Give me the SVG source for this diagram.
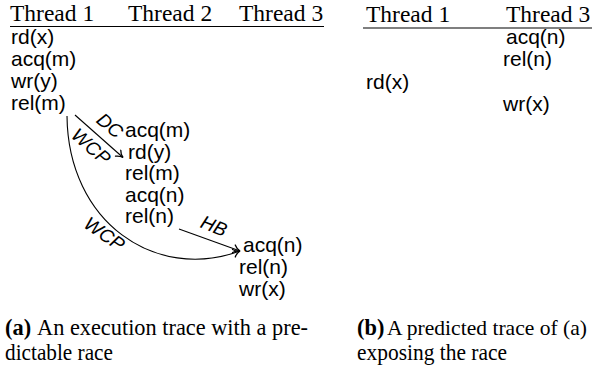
<svg xmlns="http://www.w3.org/2000/svg" width="592" height="372" viewBox="0 0 592 372">
<style>
  .hdr { font-family: "Liberation Serif", "DejaVu Serif", serif; font-size: 23.5px; fill: #000; }
  .op { font-family: "Liberation Sans", "DejaVu Sans", sans-serif; font-size: 21px; fill: #000; }
  .lbl { font-family: "Liberation Sans", "DejaVu Sans", sans-serif; font-style: italic; font-size: 19px; fill: #000; text-anchor: middle; dominant-baseline: central; }
  .cap { font-family: "Liberation Serif", "DejaVu Serif", serif; font-size: 22.4px; fill: #000; }
  .capb { font-weight: bold; }
  .capn { font-size: 21.4px; }
  .rule { stroke: #000; stroke-width: 1.1; fill: none; }
  .edge { stroke: #000; stroke-width: 1.1; fill: none; marker-end: url(#arr); }
</style>
<defs>
  <marker id="arr" viewBox="-8 -5 10 10" refX="0" refY="0" markerWidth="10" markerHeight="10" markerUnits="userSpaceOnUse" orient="auto">
    <path d="M -6.5,-4 C -4.5,-1.6 -2,-0.4 0,0 C -2,0.4 -4.5,1.6 -6.5,4" fill="none" stroke="#000" stroke-width="1.3" stroke-linecap="round"/>
  </marker>
</defs>

<g id="panel-a-header">
  <text class="hdr" x="10" y="21">Thread 1</text>
  <text class="hdr" x="128" y="21">Thread 2</text>
  <text class="hdr" x="239" y="21">Thread 3</text>
  <line class="rule" x1="10" y1="26.5" x2="324" y2="26.5"/>
</g>

<g id="a-t1-rdx"><text class="op" x="11" y="44">rd(x)</text></g>
<g id="a-t1-acqm"><text class="op" x="11" y="66">acq(m)</text></g>
<g id="a-t1-wry"><text class="op" x="11" y="88">wr(y)</text></g>
<g id="a-t1-relm"><text class="op" x="11" y="110">rel(m)</text></g>

<g id="a-t2-acqm"><text class="op" x="125" y="137">acq(m)</text></g>
<g id="a-t2-rdy"><text class="op" x="128" y="158.5">rd(y)</text></g>
<g id="a-t2-relm"><text class="op" x="125" y="180">rel(m)</text></g>
<g id="a-t2-acqn"><text class="op" x="125" y="201.5">acq(n)</text></g>
<g id="a-t2-reln"><text class="op" x="125" y="223">rel(n)</text></g>

<g id="a-t3-acqn"><text class="op" x="243" y="252">acq(n)</text></g>
<g id="a-t3-reln"><text class="op" x="239" y="274">rel(n)</text></g>
<g id="a-t3-wrx"><text class="op" x="239" y="296">wr(x)</text></g>

<g id="connectors">
  <line class="edge" x1="75" y1="115" x2="123" y2="157.5"/>
  <path class="edge" d="M 67,116 C 68,222 155,282 240,251"/>
  <line class="edge" x1="179" y1="229" x2="240" y2="251"/>
  <text class="lbl" transform="translate(110,125.5) rotate(40)">DC</text>
  <text class="lbl" transform="translate(91,146.5) rotate(41)">WCP</text>
  <text class="lbl" transform="translate(104.5,234) rotate(35)">WCP</text>
  <text class="lbl" transform="translate(214,226) rotate(22)">HB</text>
</g>

<g id="panel-b-header">
  <text class="hdr" x="366" y="22">Thread 1</text>
  <text class="hdr" x="506" y="22">Thread 3</text>
  <line class="rule" x1="363" y1="28" x2="592" y2="28"/>
</g>

<g id="b-t3-acqn"><text class="op" x="506" y="44">acq(n)</text></g>
<g id="b-t3-reln"><text class="op" x="503" y="66">rel(n)</text></g>
<g id="b-t1-rdx"><text class="op" x="366" y="89">rd(x)</text></g>
<g id="b-t3-wrx"><text class="op" x="503" y="111">wr(x)</text></g>

<g id="caption-a">
  <text class="cap capb" x="5" y="334.5">(a)</text>
  <text class="cap" x="37" y="334.5" textLength="271" lengthAdjust="spacingAndGlyphs">An execution trace with a pre-</text>
  <text class="cap" x="5" y="360" textLength="108" lengthAdjust="spacingAndGlyphs">dictable race</text>
</g>
<g id="caption-b">
  <text class="cap capb" x="357" y="334.5">(b)</text>
  <text class="cap capn" x="387" y="334.5" textLength="200" lengthAdjust="spacingAndGlyphs">A predicted trace of (a)</text>
  <text class="cap" x="357" y="360" textLength="150" lengthAdjust="spacingAndGlyphs">exposing the race</text>
</g>
</svg>
